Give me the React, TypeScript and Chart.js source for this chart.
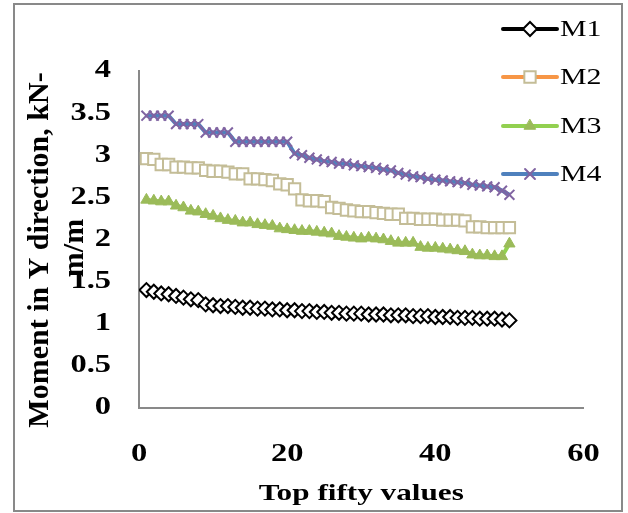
import React, { useEffect, useRef } from 'react';
import { Chart, registerables } from 'chart.js';
import { drawPoint } from 'chart.js/helpers';

Chart.register(...registerables);

// ---------- data ----------
const xValues = [
  1, 2, 3, 4, 5, 6, 7, 8, 9, 10, 11, 12, 13, 14, 15, 16, 17, 18, 19, 20, 21, 22, 23, 24, 25,
  26, 27, 28, 29, 30, 31, 32, 33, 34, 35, 36, 37, 38, 39, 40, 41, 42, 43, 44, 45, 46, 47, 48, 49, 50,
];
const m1Values = [
  1.40, 1.38, 1.36, 1.35, 1.33, 1.31, 1.29, 1.28, 1.23, 1.22, 1.21, 1.21, 1.20, 1.19, 1.19, 1.18, 1.18,
  1.17, 1.17, 1.16, 1.16, 1.15, 1.15, 1.14, 1.14, 1.13, 1.13, 1.12, 1.12, 1.12, 1.11, 1.11, 1.11, 1.10,
  1.10, 1.10, 1.09, 1.09, 1.09, 1.08, 1.08, 1.08, 1.07, 1.07, 1.07, 1.06, 1.06, 1.06, 1.05, 1.04,
];
const m2Values = [
  2.96, 2.95, 2.89, 2.89, 2.86, 2.86, 2.85, 2.85, 2.82, 2.81, 2.81, 2.80, 2.78, 2.78, 2.72, 2.72, 2.71,
  2.70, 2.66, 2.65, 2.60, 2.47, 2.46, 2.46, 2.45, 2.38, 2.37, 2.35, 2.34, 2.33, 2.33, 2.32, 2.31, 2.30,
  2.30, 2.25, 2.25, 2.24, 2.24, 2.24, 2.23, 2.23, 2.23, 2.22, 2.15, 2.15, 2.14, 2.14, 2.14, 2.14,
];
const m3Values = [
  2.47, 2.46, 2.45, 2.45, 2.40, 2.38, 2.34, 2.33, 2.30, 2.28, 2.25, 2.23, 2.22, 2.20, 2.20, 2.18, 2.17,
  2.16, 2.13, 2.12, 2.11, 2.10, 2.10, 2.09, 2.08, 2.07, 2.04, 2.03, 2.02, 2.01, 2.02, 2.01, 2.00, 1.98,
  1.96, 1.96, 1.96, 1.91, 1.90, 1.90, 1.89, 1.88, 1.87, 1.86, 1.82, 1.81, 1.81, 1.80, 1.80, 1.95,
];
const m4Values = [
  3.47, 3.47, 3.47, 3.47, 3.37, 3.37, 3.37, 3.37, 3.27, 3.27, 3.27, 3.27, 3.16, 3.16, 3.16, 3.16, 3.16,
  3.16, 3.16, 3.16, 3.02, 3.00, 2.97, 2.95, 2.93, 2.92, 2.90, 2.90, 2.88, 2.87, 2.86, 2.85, 2.83, 2.82,
  2.79, 2.77, 2.75, 2.74, 2.72, 2.71, 2.70, 2.69, 2.68, 2.67, 2.65, 2.64, 2.63, 2.62, 2.58, 2.53,
];
const seriesNames = ['M1', 'M2', 'M3', 'M4'];
const xAxisTitle = 'Top fifty values';
const yAxisTitleLines = ['Moment in Y direction, kN-', 'm/m'];

// ---------- styling ----------
const FONT = 'Liberation Serif';
const TEXT_STRETCH = 1.3;
const AXIS_GRAY = '#898989';

const seriesStyles = [
  { line: '#000000', pointStyle: 'rectRot', radius: 7, pBorder: '#000000', pFill: '#ffffff', pWidth: 2 },
  { line: '#F79646', pointStyle: 'rect', radius: 8, pBorder: '#C4BD97', pFill: '#ffffff', pWidth: 2 },
  { line: '#92D050', pointStyle: 'triangle', radius: 6.5, pBorder: '#9BBB59', pFill: '#9BBB59', pWidth: 1 },
  { line: '#4F81BD', pointStyle: 'crossRot', radius: 7, pBorder: '#8064A2', pFill: '#8064A2', pWidth: 2 },
];
const seriesValues = [m1Values, m2Values, m3Values, m4Values];

function stretchCtxText(ctx: any) {
  if (ctx.__origFillText) return;
  const orig = ctx.fillText.bind(ctx);
  ctx.__origFillText = orig;
  ctx.fillText = function (text: string, x: number, y: number, maxWidth?: number) {
    ctx.save();
    ctx.translate(x, y);
    ctx.scale(TEXT_STRETCH, 1);
    if (maxWidth !== undefined && maxWidth !== null) orig(text, 0, 0, maxWidth / TEXT_STRETCH);
    else orig(text, 0, 0);
    ctx.restore();
  };
}

const framePlugin = {
  id: 'frame',
  beforeDraw(chart: any) {
    const ctx = chart.ctx;
    ctx.save();
    ctx.fillStyle = '#ffffff';
    ctx.fillRect(0, 0, chart.width, chart.height);
    ctx.strokeStyle = AXIS_GRAY;
    ctx.lineWidth = 2;
    ctx.strokeRect(14, 4, 608, 507);
    ctx.restore();
  },
};

const yTitlePlugin = {
  id: 'yTitle',
  afterDraw(chart: any) {
    const ctx = chart.ctx;
    const orig = ctx.__origFillText || ctx.fillText.bind(ctx);
    const pos = [
      [40, 250],
      [75, 248],
    ];
    ctx.save();
    ctx.fillStyle = '#000';
    ctx.font = `bold 30px "${FONT}"`;
    ctx.textAlign = 'center';
    ctx.textBaseline = 'middle';
    yAxisTitleLines.forEach((line, i) => {
      ctx.save();
      ctx.translate(pos[i][0], pos[i][1]);
      ctx.rotate(-Math.PI / 2);
      orig(line, 0, 0);
      ctx.restore();
    });
    ctx.restore();
  },
};

const legendPlugin = {
  id: 'customLegend',
  afterDraw(chart: any) {
    const ctx = chart.ctx;
    const rows = [29, 77, 126, 174];
    ctx.save();
    seriesNames.forEach((name, i) => {
      const st = seriesStyles[i];
      const y = rows[i];
      ctx.strokeStyle = st.line;
      ctx.lineWidth = 4;
      ctx.lineCap = 'round';
      ctx.beginPath();
      ctx.moveTo(503, y);
      ctx.lineTo(557, y);
      ctx.stroke();
      ctx.fillStyle = st.pFill;
      ctx.strokeStyle = st.pBorder;
      ctx.lineWidth = st.pWidth;
      drawPoint(ctx, { pointStyle: st.pointStyle as any, radius: st.radius, borderWidth: st.pWidth, rotation: 0 }, 530, y);
      ctx.fillStyle = '#000';
      ctx.font = `23px "${FONT}"`;
      ctx.textAlign = 'left';
      ctx.textBaseline = 'middle';
      ctx.fillText(name, 560, y + 1);
    });
    ctx.restore();
  },
};

export default function App() {
  const canvasRef = useRef<HTMLCanvasElement>(null);

  useEffect(() => {
    const canvas = canvasRef.current;
    if (!canvas) return;
    const ctx = canvas.getContext('2d')!;
    stretchCtxText(ctx);

    const datasets = seriesNames.map((name, i) => {
      const st = seriesStyles[i];
      return {
        label: name,
        data: xValues.map((x, j) => ({ x, y: seriesValues[i][j] })),
        borderColor: st.line,
        backgroundColor: st.line,
        borderWidth: 4,
        tension: 0,
        pointStyle: st.pointStyle,
        pointRadius: st.radius,
        pointHoverRadius: st.radius,
        pointBorderColor: st.pBorder,
        pointBackgroundColor: st.pFill,
        pointBorderWidth: st.pWidth,
        fill: false,
      };
    });

    const tickFont = { family: FONT, size: 25, weight: 'bold' as const };

    const chart = new Chart(ctx, {
      type: 'line',
      data: { datasets },
      options: {
        animation: false,
        responsive: false,
        devicePixelRatio: 1,
        events: [],
        layout: { padding: { left: 0, right: 43, top: 71, bottom: 0 } },
        plugins: {
          legend: { display: false },
          tooltip: { enabled: false },
        },
        scales: {
          x: {
            type: 'linear',
            min: 0,
            max: 60,
            grid: { display: false, drawTicks: false },
            border: { display: true, color: AXIS_GRAY, width: 2 },
            ticks: { stepSize: 20, color: '#000', font: tickFont, padding: 32, maxRotation: 0, autoSkip: false },
            title: {
              display: true,
              text: xAxisTitle,
              color: '#000',
              font: { family: FONT, size: 24, weight: 'bold' },
              padding: { top: 0, bottom: 5 },
            },
            afterFit: (s: any) => {
              s.height = 105;
            },
          },
          y: {
            type: 'linear',
            min: 0,
            max: 4,
            grid: { display: false, drawTicks: false },
            border: { display: true, color: AXIS_GRAY, width: 2 },
            ticks: {
              stepSize: 0.5,
              color: '#000',
              font: tickFont,
              padding: 28,
              callback: (v: any) => String(v),
            },
            afterFit: (s: any) => {
              s.width = 139;
            },
          },
        },
      } as any,
      plugins: [framePlugin, yTitlePlugin, legendPlugin],
    });

    return () => chart.destroy();
  }, []);

  return (
    <div style={{ position: 'absolute', left: 0, top: 0, width: 628, height: 513, background: '#fff' }}>
      <canvas ref={canvasRef} width={628} height={513} style={{ display: 'block', width: 628, height: 513 }} />
    </div>
  );
}
